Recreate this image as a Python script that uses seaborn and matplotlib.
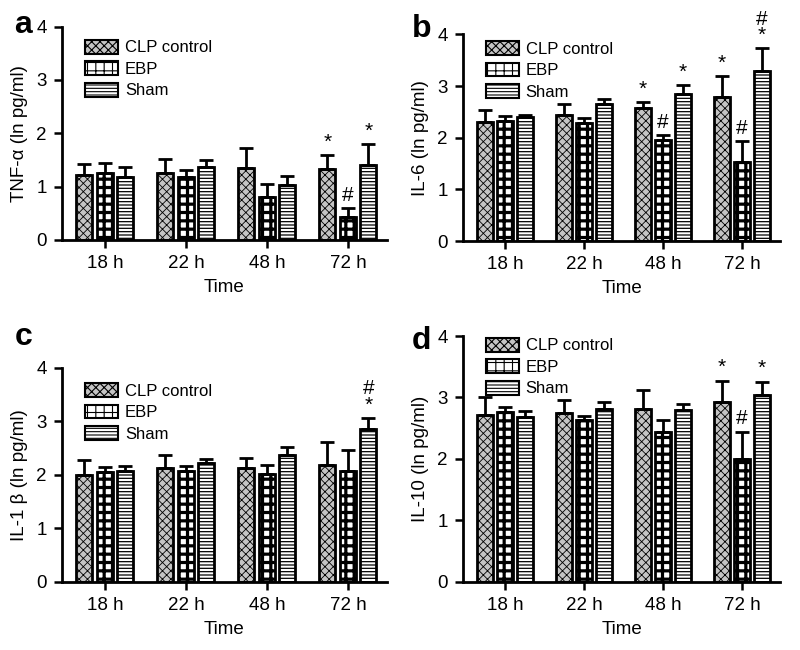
import numpy as np
import pandas as pd
import matplotlib
matplotlib.use("Agg")
import matplotlib.pyplot as plt
import seaborn as sns
from matplotlib.patches import Patch

TIMES = ["18 h", "22 h", "48 h", "72 h"]
GROUPS = ["CLP control", "EBP", "Sham"]

# panel a: TNF-alpha
tnf_mean = {"CLP control": [1.22, 1.25, 1.35, 1.32],
            "EBP": [1.25, 1.17, 0.80, 0.42],
            "Sham": [1.18, 1.37, 1.02, 1.40]}
tnf_err = {"CLP control": [0.21, 0.27, 0.37, 0.28],
           "EBP": [0.20, 0.14, 0.24, 0.18],
           "Sham": [0.19, 0.13, 0.18, 0.40]}

# panel b: IL-6
il6_mean = {"CLP control": [2.30, 2.45, 2.58, 2.78],
            "EBP": [2.33, 2.28, 1.95, 1.53],
            "Sham": [2.40, 2.65, 2.85, 3.30]}
il6_err = {"CLP control": [0.23, 0.20, 0.12, 0.42],
           "EBP": [0.10, 0.10, 0.10, 0.40],
           "Sham": [0.05, 0.10, 0.18, 0.43]}

# panel c: IL-1 beta
il1_mean = {"CLP control": [2.00, 2.12, 2.12, 2.18],
            "EBP": [2.05, 2.07, 2.02, 2.07],
            "Sham": [2.08, 2.23, 2.38, 2.85]}
il1_err = {"CLP control": [0.27, 0.26, 0.20, 0.44],
           "EBP": [0.10, 0.09, 0.16, 0.40],
           "Sham": [0.08, 0.07, 0.14, 0.22]}

# panel d: IL-10
il10_mean = {"CLP control": [2.72, 2.74, 2.82, 2.93],
             "EBP": [2.77, 2.63, 2.43, 2.00],
             "Sham": [2.68, 2.81, 2.79, 3.04]}
il10_err = {"CLP control": [0.28, 0.22, 0.30, 0.34],
            "EBP": [0.08, 0.07, 0.21, 0.44],
            "Sham": [0.10, 0.12, 0.10, 0.22]}

# significance marks: (time index, group, text)
tnf_marks = [(3, "CLP control", "*"), (3, "EBP", "#"), (3, "Sham", "*")]
il6_marks = [(2, "CLP control", "*"), (2, "EBP", "#"), (2, "Sham", "*"),
             (3, "CLP control", "*"), (3, "EBP", "#"), (3, "Sham", "#\n*")]
il1_marks = [(3, "Sham", "#\n*")]
il10_marks = [(3, "CLP control", "*"), (3, "EBP", "#"), (3, "Sham", "*")]

FACE = {"CLP control": "#c4c4c4", "EBP": "white", "Sham": "white"}
HATCH = {"CLP control": "xxxx", "EBP": "++", "Sham": "-----"}
HATCH_LW = {"CLP control": 0.6, "EBP": 2.3, "Sham": 0.9}

sns.set_theme(style="ticks")
plt.rcParams["font.family"] = ["Liberation Sans", "DejaVu Sans"]
plt.rcParams["hatch.linewidth"] = 0.8
for key in ["text.color", "axes.labelcolor", "xtick.color", "ytick.color",
            "axes.edgecolor"]:
    plt.rcParams[key] = "black"


def style_hatch(p, g):
    p.set_hatch(HATCH[g])
    if hasattr(p, "set_hatch_linewidth"):
        p.set_hatch_linewidth(HATCH_LW[g])


def draw_panel(ax, means, errs, marks, ylabel, letter, letter_xy, legend_y):
    rows = []
    for g in GROUPS:
        for t, v in zip(TIMES, means[g]):
            rows.append({"Time": t, "Group": g, "value": v})
    df = pd.DataFrame(rows)
    sns.barplot(data=df, x="Time", y="value", hue="Group", order=TIMES,
                hue_order=GROUPS, errorbar=None, width=0.76, gap=0.22,
                palette=FACE, edgecolor="black", linewidth=2.0, ax=ax,
                legend=False)
    for cont, g in zip(ax.containers, GROUPS):
        xs = []
        for p in cont.patches:
            style_hatch(p, g)
            xs.append(p.get_x() + p.get_width() / 2)
        m = np.array(means[g])
        e = np.array(errs[g])
        ax.errorbar(xs, m, yerr=[np.zeros_like(e), e], fmt="none",
                    ecolor="black", elinewidth=2, capsize=5, capthick=2,
                    zorder=1)
        for ti, gg, txt in marks:
            if gg == g:
                ax.text(xs[ti], m[ti] + e[ti] + 0.06, txt, ha="center",
                        va="bottom", fontsize=15, linespacing=0.8,
                        clip_on=False)
    ax.set_ylim(0, 4)
    ax.set_xlim(-0.53, 3.48)
    ax.set_yticks([0, 1, 2, 3, 4])
    ax.set_xlabel("Time", fontsize=13.5, labelpad=5)
    ax.set_ylabel(ylabel, fontsize=13.5, labelpad=6)
    ax.tick_params(axis="both", labelsize=13.5, width=1.8, length=6,
                   direction="out", pad=5)
    for s in ["left", "bottom"]:
        ax.spines[s].set_linewidth(2)
    sns.despine(ax=ax)
    handles = []
    for g in GROUPS:
        h = Patch(facecolor=FACE[g], edgecolor="black", linewidth=1.5, label=g)
        style_hatch(h, g)
        handles.append(h)
    ax.legend(handles=handles, loc="upper left", bbox_to_anchor=(0.05, legend_y),
              frameon=False, fontsize=12, handlelength=2.0, handleheight=0.9,
              handletextpad=0.4, labelspacing=0.35, borderaxespad=0)
    ax.figure.text(letter_xy[0], letter_xy[1], letter, fontsize=23,
                   fontweight="bold", ha="left", va="center")


fig = plt.figure(figsize=(8, 6.5), dpi=100)
ax_a = fig.add_axes([0.0775, 0.631, 0.406, 0.328])
ax_b = fig.add_axes([0.579, 0.629, 0.396, 0.318])
ax_c = fig.add_axes([0.0775, 0.105, 0.406, 0.329])
ax_d = fig.add_axes([0.579, 0.105, 0.396, 0.378])

draw_panel(ax_a, tnf_mean, tnf_err, tnf_marks, "TNF-α (ln pg/ml)", "a",
           (0.018, 0.962), 0.97)
draw_panel(ax_b, il6_mean, il6_err, il6_marks, "IL-6 (ln pg/ml)", "b",
           (0.515, 0.955), 1.0)
draw_panel(ax_c, il1_mean, il1_err, il1_marks, "IL-1 β (ln pg/ml)", "c",
           (0.018, 0.482), 0.96)
draw_panel(ax_d, il10_mean, il10_err, il10_marks, "IL-10 (ln pg/ml)", "d",
           (0.515, 0.475), 1.02)

fig.savefig("out.png", dpi=100)
